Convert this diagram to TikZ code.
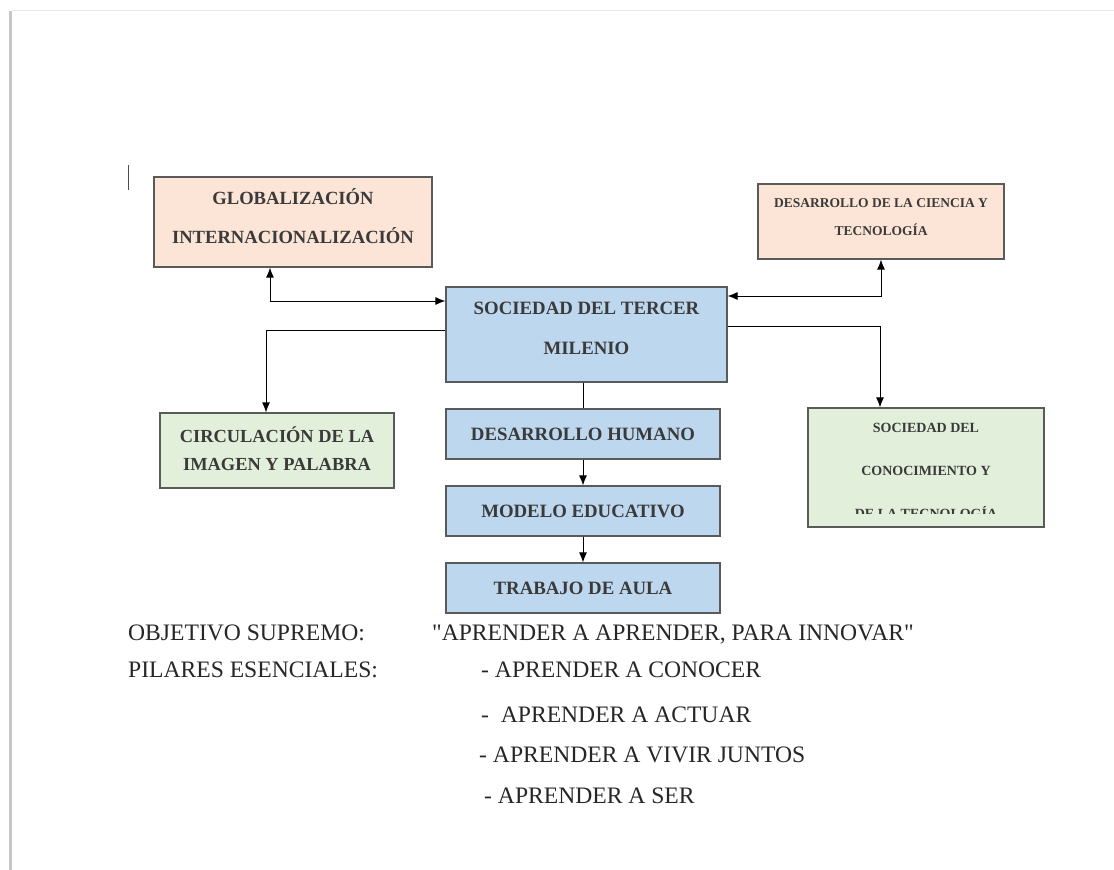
\documentclass[tikz,border=0pt]{standalone}
\usepackage{fontspec}
\setmainfont{Liberation Serif}
\usetikzlibrary{arrows.meta}

\definecolor{peach}{HTML}{FCE4D6}
\definecolor{celeste}{HTML}{BDD7EE}
\definecolor{verde}{HTML}{E2EFDA}
\definecolor{borde}{HTML}{5A5A5A}
\definecolor{letra}{HTML}{3A3A3A}

\begin{document}
\begin{tikzpicture}[x=1pt, y=-1pt,
        caja/.style={draw=borde, line width=1.2pt, inner sep=0pt, align=center, text=letra},
        flecha/.style={line width=1pt, -{Latex[length=10pt,width=8pt]}},
        doble/.style={line width=1pt, {Latex[length=10pt,width=8pt]}-{Latex[length=10pt,width=8pt]}},
        linea/.style={anchor=base west, font=\fontsize{23.6}{28}\selectfont, text=black!85, inner sep=0pt}]
        \useasboundingbox (0, 0) rectangle (1114, 870);

        % hoja
        \draw[line width=3pt, black!22](10.5, 11)--(10.5, 870);
        \draw[line width=1.5pt, black!8](12, 10.5)--(1114, 10.5);
        \draw[line width=1pt, black!70](128, 165)--(128, 190);

        % cajas de arriba
        \node[caja, fill=peach, minimum width=278, minimum height=90, text depth=12pt,
              font=\fontsize{18.6}{39}\selectfont\bfseries] (glob) at (293, 222)
              {GLOBALIZACIÓN\\INTERNACIONALIZACIÓN};
        \node[caja, fill=peach, minimum width=246, minimum height=75, text depth=8pt,
              font=\fontsize{13.5}{28}\selectfont\bfseries] (ciencia) at (881, 221.5)
              {DESARROLLO DE LA CIENCIA Y\\TECNOLOGÍA};

        % columna central
        \node[caja, fill=celeste, minimum width=281, minimum height=95, text depth=12pt,
              font=\fontsize{18.8}{40}\selectfont\bfseries] (soc) at (586.5, 334.5)
              {SOCIEDAD DEL TERCER\\MILENIO};
        \node[caja, fill=celeste, minimum width=274, minimum height=50,
              font=\fontsize{18.8}{21}\selectfont\bfseries] (dh) at (583, 434)
              {DESARROLLO HUMANO};
        \node[caja, fill=celeste, minimum width=274, minimum height=50,
              font=\fontsize{18.8}{21}\selectfont\bfseries] (me) at (583, 511)
              {MODELO EDUCATIVO};
        \node[caja, fill=celeste, minimum width=274, minimum height=50,
              font=\fontsize{18.8}{21}\selectfont\bfseries] (ta) at (583, 588)
              {TRABAJO DE AULA};

        % cajas de los lados
        \node[caja, fill=verde, minimum width=234, minimum height=75, text depth=4pt,
              font=\fontsize{18.4}{28}\selectfont\bfseries] (circ) at (277, 450.5)
              {CIRCULACIÓN DE LA\\IMAGEN Y PALABRA};
        \node[caja, fill=verde, minimum width=236, minimum height=119] (sconoc) at (926, 467.5) {};
        \begin{scope}
            \clip (sconoc.north west) rectangle ([yshift=14pt]sconoc.south east);
            \node[align=center, text=letra, font=\fontsize{14}{43}\selectfont\bfseries] (sctexto)
                at ([yshift=-3.5pt]sconoc.center)
                {SOCIEDAD DEL\\CONOCIMIENTO Y\\DE LA TECNOLOGÍA};
        \end{scope}

        % conectores
        \draw[doble]([xshift=-23pt]glob.south) |- ([yshift=33.5pt]soc.west);
        \draw[doble](ciencia.south) |- ([yshift=38.5pt]soc.east);
        \draw[flecha]([yshift=4.5pt]soc.west) -| ([xshift=-11pt]circ.north);
        \draw[flecha]([yshift=8.5pt]soc.east) -| ([xshift=-46pt]sconoc.north);
        \draw[line width=1pt](soc.south -| dh.north)--(dh.north);
        \draw[flecha](dh.south)--(me.north);
        \draw[flecha](me.south)--(ta.north);

        % texto de abajo
        \node[linea] (obj) at (128, 640) {OBJETIVO SUPREMO:};
        \node[linea] (lema) at (432, 640) {\textquotedbl APRENDER A APRENDER, PARA INNOVAR\textquotedbl};
        \node[linea] (pil) at (128, 677) {PILARES ESENCIALES:};
        \node[linea] (p1) at (481, 677) {- APRENDER A CONOCER};
        \node[linea] (p2) at (481, 722) {-\ \ APRENDER A ACTUAR};
        \node[linea] (p3) at (479, 762) {- APRENDER A VIVIR JUNTOS};
        \node[linea] (p4) at (484, 803) {- APRENDER A SER};
    \end{tikzpicture}
\end{document}
